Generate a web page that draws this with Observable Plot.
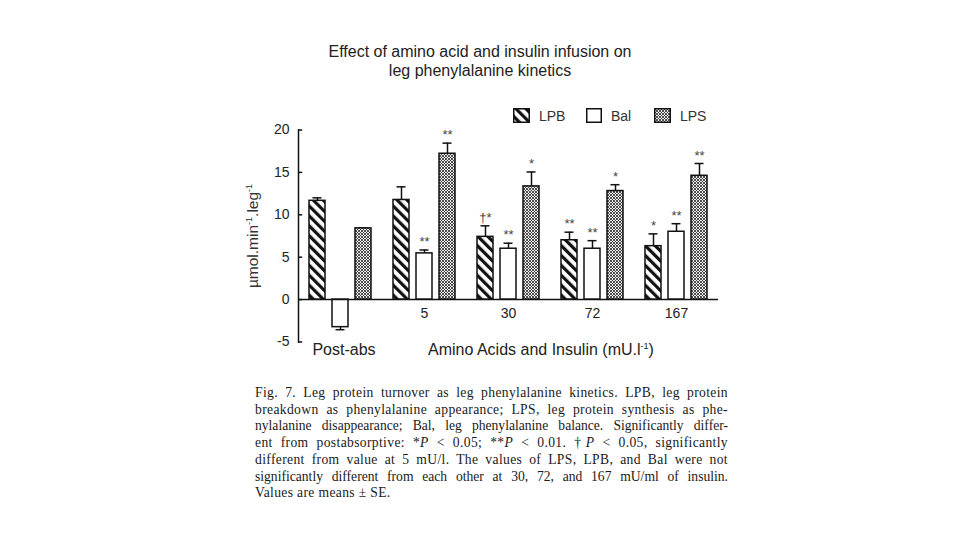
<!DOCTYPE html>
<html>
<head>
<meta charset="utf-8">
<script src="https://cdn.jsdelivr.net/npm/d3@7"></script>
<script src="https://cdn.jsdelivr.net/npm/@observablehq/plot@0.6"></script>
<style>
  html, body { margin: 0; padding: 0; background: #fff; }
  #wrap { position: relative; width: 960px; height: 540px; overflow: hidden; font-family: "Liberation Sans", Arial, sans-serif; color: #222; }
  #chart { position: absolute; left: 0; top: 0; }
  .abs { position: absolute; white-space: nowrap; }
  #title { left: 0; width: 960px; top: 42px; text-align: center; font-size: 16px; line-height: 19px; color: #222; }
  .leg { position: absolute; top: 107px; height: 17px; display: flex; align-items: center; font-size: 14px; color: #333; }
  .leg svg { margin-right: 9px; }
  #ylab { left: 253px; top: 236px; transform: translate(-50%, -50%) rotate(-90deg); font-size: 15.5px; color: #333; }
  #ylab sup, #xlab sup { font-size: 9px; vertical-align: 6px; line-height: 0; }
  #postabs { left: 344px; top: 350px; transform: translate(-50%, -50%); font-size: 16px; color: #222; }
  #xlab { left: 428px; top: 350px; transform: translate(0, -50%); font-size: 16px; color: #222; }
  #caption { position: absolute; left: 255px; top: 385px; width: 473px; font-family: "Liberation Serif", "Times New Roman", serif; font-size: 13.6px; line-height: 16.7px; color: #1a1a1a; }
  #caption div { text-align: justify; text-align-last: justify; white-space: nowrap; letter-spacing: 0.35px; }
  #caption div.tight { letter-spacing: 0; }
  #caption div.last { text-align-last: left; }
</style>
</head>
<body>
<svg width="0" height="0" style="position:absolute">
  <defs>
    <pattern id="pLPB" patternUnits="userSpaceOnUse" width="7" height="7" patternTransform="rotate(-45)">
      <rect x="0" y="0" width="7" height="7" fill="#fff"></rect>
      <rect x="0" y="0" width="3.2" height="7" fill="#111"></rect>
    </pattern>
    <pattern id="pLPS" patternUnits="userSpaceOnUse" width="3" height="3">
      <rect x="0" y="0" width="3" height="3" fill="#eeeeee"></rect>
      <path d="M0,0 L3,3 M3,0 L0,3 M-1,2 L1,4 M2,-1 L4,1" stroke="#333" stroke-width="0.85" fill="none"></path>
    </pattern>
  </defs>
</svg>
<div id="wrap">
  <div id="chart"></div>
  <div id="title" class="abs">Effect of amino acid and insulin infusion on<br>leg phenylalanine kinetics</div>
  <div class="leg" style="left:513px"><svg width="17" height="15"><rect x="0.75" y="0.75" width="15.5" height="13.5" fill="url(#pLPB)" stroke="#111" stroke-width="1.5"></rect></svg><span id="l0"></span></div>
  <div class="leg" style="left:586px"><svg width="16" height="15"><rect x="0.75" y="0.75" width="14.5" height="13.5" fill="#fff" stroke="#111" stroke-width="1.5"></rect></svg><span id="l1"></span></div>
  <div class="leg" style="left:654px"><svg width="17" height="15"><rect x="0.75" y="0.75" width="15.5" height="13.5" fill="url(#pLPS)" stroke="#111" stroke-width="1.5"></rect></svg><span id="l2"></span></div>
  <div id="ylab" class="abs">µmol.min<sup>-1</sup>.leg<sup>-1</sup></div>
  <div id="postabs" class="abs">Post-abs</div>
  <div id="xlab" class="abs">Amino Acids and Insulin (mU.l<sup>-1</sup>)</div>
  <div id="caption">
    <div>Fig. 7. Leg protein turnover as leg phenylalanine kinetics. LPB, leg protein</div>
    <div>breakdown as phenylalanine appearance; LPS, leg protein synthesis as phe-</div>
    <div class="tight">nylalanine disappearance; Bal, leg phenylalanine balance. Significantly differ-</div>
    <div>ent from postabsorptive: *<i>P</i> &lt; 0.05; **<i>P</i> &lt; 0.01. †<i>P</i> &lt; 0.05, significantly</div>
    <div>different from value at 5 mU/l. The values of LPS, LPB, and Bal were not</div>
    <div class="tight">significantly different from each other at 30, 72, and 167 mU/ml of insulin.</div>
    <div class="last">Values are means ± SE.</div>
  </div>
</div>
<script>
// ---- data ----
const groups = ["Post-abs", "5", "30", "72", "167"];
const series = ["LPB", "Bal", "LPS"];
const lpbMean = [11.65, 11.75, 7.4, 7.0, 6.3];
const lpbSE   = [0.35, 1.55, 1.3, 0.95, 1.45];
const balMean = [-3.25, 5.45, 6.0, 6.0, 8.0];
const balSE   = [0.3, 0.4, 0.65, 0.95, 0.95];
const lpsMean = [8.4, 17.2, 13.35, 12.8, 14.6];
const lpsSE   = [0.05, 1.25, 1.7, 0.75, 1.45];
const lpbSig = ["", "", "†*", "**", "*"];
const balSig = ["", "**", "**", "**", "**"];
const lpsSig = ["", "**", "*", "*", "**"];
const yTicks = [-5, 0, 5, 10, 15, 20];

const rows = [];
const src = {LPB: [lpbMean, lpbSE, lpbSig], Bal: [balMean, balSE, balSig], LPS: [lpsMean, lpsSE, lpsSig]};
groups.forEach((g, i) => {
  series.forEach(s => {
    const [m, se, sig] = src[s];
    rows.push({group: g, series: s, value: m[i], se: se[i], sig: sig[i],
               end: m[i] + Math.sign(m[i]) * se[i]});
  });
});
series.forEach((s, i) => document.getElementById("l" + i).textContent = s);

const fills = {LPB: "url(#pLPB)", Bal: "#ffffff", LPS: "url(#pLPS)"};
const ink = "#111";

const chart = Plot.plot({
  width: 960,
  height: 370,
  marginTop: 129.5,
  marginBottom: 28.5,
  marginLeft: 296,
  marginRight: 240,
  style: {fontFamily: "'Liberation Sans', Arial, sans-serif", color: "#222", background: "transparent"},
  fx: {domain: groups, padding: 0, axis: null},
  x: {domain: series, paddingInner: 0.32, paddingOuter: 0.47, axis: null},
  y: {domain: [-5, 20], axis: null},
  marks: [
    Plot.axisY({ticks: yTicks, tickFormat: d => String(d), tickSize: 0, tickPadding: 9, fontSize: 14, fill: "#222", label: null}),
    Plot.frame({anchor: "left", facetAnchor: "left", stroke: ink, strokeWidth: 1.5}),
    Plot.tickY(yTicks, {y: d => d, fx: () => groups[0], insetRight: 79.8, stroke: ink, strokeWidth: 1.5}),
    Plot.ruleX(rows, {fx: "group", x: "series", y1: "value", y2: "end", stroke: ink, strokeWidth: 1.5}),
    Plot.tickY(rows, {fx: "group", x: "series", y: "end", insetLeft: 3.5, insetRight: 3.5, stroke: ink, strokeWidth: 1.5}),
    ...series.map(s => Plot.barY(rows.filter(d => d.series === s), {
      fx: "group", x: "series", y: "value", fill: fills[s], stroke: ink, strokeWidth: 1.5
    })),
    Plot.ruleY([0], {stroke: ink, strokeWidth: 1.5}),
    Plot.text(rows.filter(d => d.sig), {fx: "group", x: "series", y: "end", text: "sig", dy: -8, fontSize: 13, fill: "#444"}),
    Plot.text(groups.slice(1), {fx: d => d, y: () => 0, text: d => d, dy: 14, fontSize: 14, fill: "#222"})
  ]
});
document.getElementById("chart").appendChild(chart);
</script>
</body>
</html>
